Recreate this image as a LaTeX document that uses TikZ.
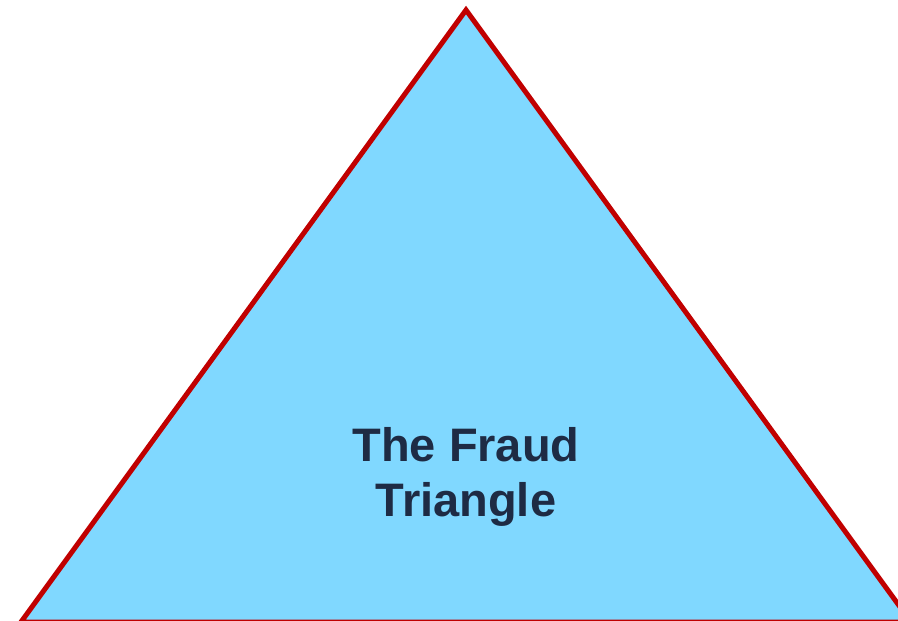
\documentclass[tikz,border=0pt]{standalone}
\usepackage{fontspec}
\setmainfont{Liberation Sans}
\definecolor{fraudred}{HTML}{C00000}
\definecolor{fraudblue}{HTML}{80D8FF}
\definecolor{fraudtext}{HTML}{1E2B44}
\begin{document}
\begin{tikzpicture}[
        x=1pt, y=-1pt,
        tri/.style={draw=fraudred, fill=fraudblue, line width=5pt, line join=miter},
        title/.style={align=center, text=fraudtext, font=\fontsize{47}{55}\selectfont\bfseries}
    ]
        \useasboundingbox (0,0) rectangle (898,621);
        \clip (0,0) rectangle (898,621);
        \coordinate (apex) at (466,10);
        \coordinate (left) at (21,622);
        \coordinate (right) at (911,622);
        \draw[tri] (apex) -- (right) -- (left) -- cycle;
        \node[title] (label) at (466,477) {The Fraud\\Triangle};
    \end{tikzpicture}
\end{document}
